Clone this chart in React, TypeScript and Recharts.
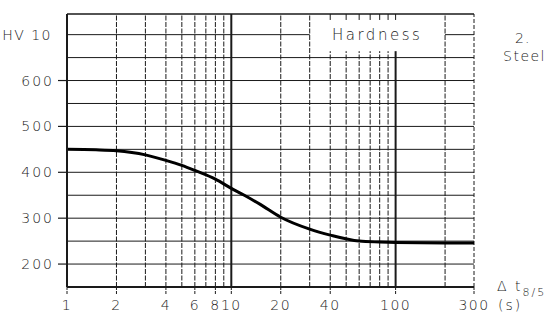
import { LineChart, Line, XAxis, YAxis, ReferenceLine } from 'recharts'

// cooling time t8/5 (s) and hardness HV 10
const COOLING_TIME = [1, 1.5, 2, 3, 4, 5, 6, 8, 10, 12, 15, 20, 30, 40, 60, 80, 100, 200, 300]
const HARDNESS = [450, 449, 447, 438, 426, 415, 404, 385, 365, 350, 330, 302, 276, 263, 250, 248, 247, 246, 246]

const X_TICKS = [1, 2, 4, 6, 8, 10, 20, 40, 100, 300]
const Y_TICKS = [200, 300, 400, 500, 600, 700]
const GRID_X = [2, 3, 4, 5, 6, 7, 8, 9, 20, 30, 200]
const GRID_X_MAJOR = [10, 100]
const GRID_X_BOXED = [40, 50, 60, 70, 80, 90]
const GRID_Y = [200, 250, 300, 350, 400, 450, 500, 550, 600, 650]

const data = COOLING_TIME.map((t, i) => ({ t, hv: HARDNESS[i] }))

const FONT = '"DejaVu Sans", sans-serif'
const INK = '#1a1a1a'

const YTick = (props: any) => {
  const { x, y, payload } = props
  if (payload.value === 700) {
    return (
      <text x={x - 2} y={y + 5} textAnchor="end" fontSize={14} letterSpacing={1.5} fill={INK} fontFamily={FONT} fontWeight={200}>
        HV 10
      </text>
    )
  }
  return (
    <g>
      <line x1={x + 4} x2={x + 13} y1={y} y2={y} stroke={INK} strokeWidth={1.2} />
      <text x={x} y={y + 5} textAnchor="end" fontSize={14} letterSpacing={2} fill={INK} fontFamily={FONT} fontWeight={200}>
        {payload.value}
      </text>
    </g>
  )
}

const XTick = (props: any) => {
  const { x, y, payload } = props
  const v = payload.value
  return (
    <g>
      <line x1={x} x2={x} y1={y - 12} y2={y - 4} stroke={INK} strokeWidth={1} strokeDasharray="3 1" />
      <text x={x} y={y + 11} textAnchor="middle" fontSize={14} letterSpacing={1.5} fill={INK} fontFamily={FONT} fontWeight={200}>
        {v}
      </text>
      {v === 300 && (
        <text x={x + 24} y={y + 11} textAnchor="start" fontSize={14} letterSpacing={2} fill={INK} fontFamily={FONT} fontWeight={200}>
          (s)
        </text>
      )}
    </g>
  )
}

const textStyle: React.CSSProperties = {
  position: 'absolute',
  fontFamily: FONT,
  fontWeight: 200,
  color: INK,
  whiteSpace: 'nowrap',
  lineHeight: 1,
}

export default function App() {
  return (
    <div style={{ position: 'fixed', left: 0, top: 0, width: 555, height: 320, background: '#fff' }}>
      <LineChart width={555} height={320} data={data} margin={{ top: 14, right: 81, bottom: 8, left: 0 }}>
        {GRID_Y.map((v) => (
          <ReferenceLine key={'gy' + v} y={v} stroke={INK} strokeWidth={1} />
        ))}
        <ReferenceLine segment={[{ x: 1, y: 700 }, { x: 30, y: 700 }]} stroke={INK} strokeWidth={1} />
        <ReferenceLine segment={[{ x: 200, y: 700 }, { x: 300, y: 700 }]} stroke={INK} strokeWidth={1} />
        {GRID_X.map((v) => (
          <ReferenceLine key={'gx' + v} x={v} stroke={INK} strokeWidth={1} strokeDasharray="5 1.5" />
        ))}
        {GRID_X_BOXED.map((v) => (
          <ReferenceLine key={'gb' + v} segment={[{ x: v, y: 150 }, { x: v, y: 664 }]} stroke={INK} strokeWidth={1} strokeDasharray="5 1.5" />
        ))}
        {GRID_X_BOXED.map((v) => (
          <ReferenceLine key={'gt' + v} segment={[{ x: v, y: 732 }, { x: v, y: 745 }]} stroke={INK} strokeWidth={1} />
        ))}
        <ReferenceLine x={10} stroke={INK} strokeWidth={2} />
        <ReferenceLine segment={[{ x: 100, y: 150 }, { x: 100, y: 664 }]} stroke={INK} strokeWidth={2} />
        <ReferenceLine segment={[{ x: 100, y: 732 }, { x: 100, y: 745 }]} stroke={INK} strokeWidth={1} />
        <ReferenceLine x={300} stroke={INK} strokeWidth={1} strokeDasharray="4 2" />
        <ReferenceLine y={745} stroke={INK} strokeWidth={1.5} />
        <XAxis
          dataKey="t"
          type="number"
          scale="log"
          domain={[1, 300]}
          ticks={X_TICKS}
          allowDataOverflow
          height={25}
          tickSize={8}
          tickMargin={4}
          tickLine={false}
          axisLine={{ stroke: INK, strokeWidth: 2 }}
          tick={<XTick />}
          interval={0}
        />
        <YAxis
          type="number"
          domain={[150, 745]}
          ticks={Y_TICKS}
          allowDataOverflow
          width={67}
          tickSize={9}
          tickMargin={4}
          tickLine={false}
          axisLine={{ stroke: INK, strokeWidth: 2 }}
          tick={<YTick />}
          interval={0}
        />
        <Line
          dataKey="hv"
          type="monotone"
          stroke="#000"
          strokeWidth={3}
          dot={false}
          isAnimationActive={false}
        />
      </LineChart>
      <div style={{ ...textStyle, left: 332, top: 28, fontSize: 15, letterSpacing: 2.5 }}>Hardness</div>
      <div style={{ ...textStyle, left: 515, top: 31, fontSize: 14, letterSpacing: 1 }}>2.</div>
      <div style={{ ...textStyle, left: 503, top: 49, fontSize: 14, letterSpacing: 1.5 }}>Steel</div>
      <div style={{ ...textStyle, left: 497, top: 279, fontSize: 14, letterSpacing: 2 }}>
        Δ t<sub style={{ fontSize: 11, letterSpacing: 2, verticalAlign: -5 }}>8/5</sub>
      </div>
    </div>
  )
}
